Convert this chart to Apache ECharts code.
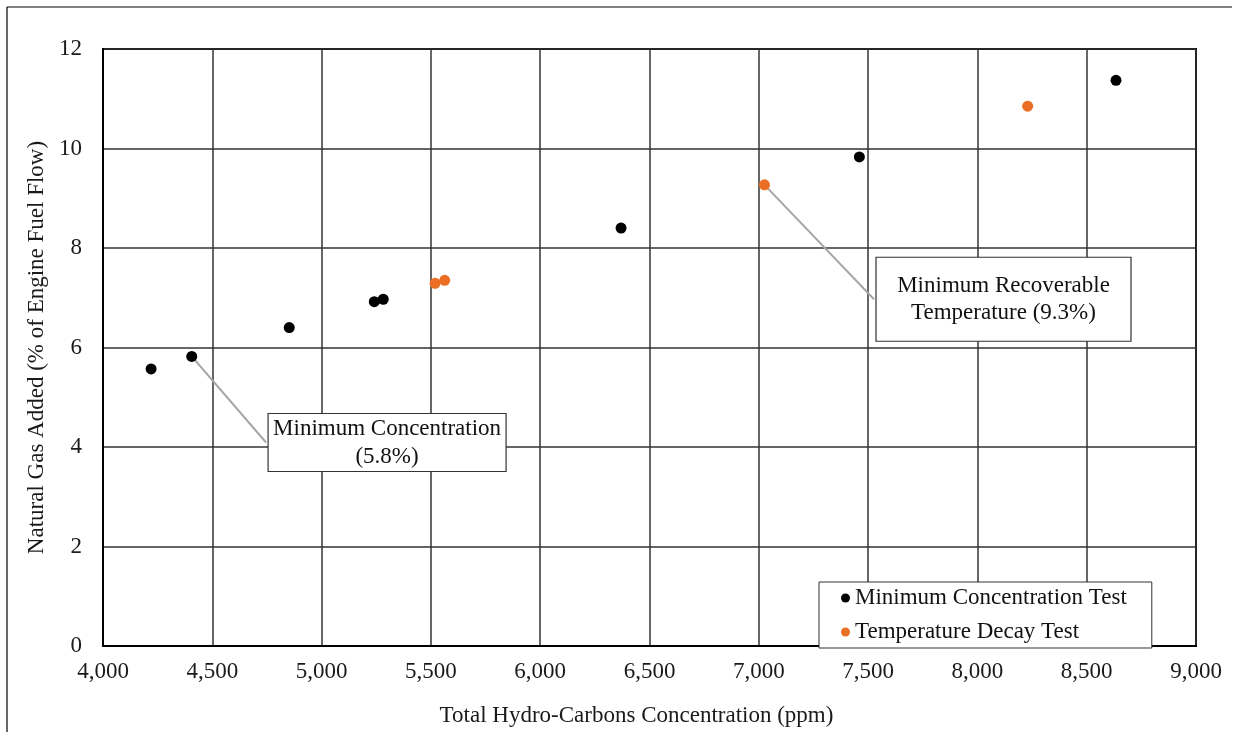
<!DOCTYPE html>
<html>
<head>
<meta charset="utf-8">
<script src="https://cdn.jsdelivr.net/npm/echarts@6/dist/echarts.min.js"></script>
<style>
html,body{margin:0;padding:0;background:#fff;}
#chart{width:1235px;height:732px;}
</style>
</head>
<body>
<div id="chart"></div>
<script>
// Data
const minConcX = [4220, 4406, 4852, 5241, 5282, 6370, 7460, 8634];
const minConcY = [5.57, 5.82, 6.40, 6.92, 6.97, 8.40, 9.83, 11.37];
const tempDecayX = [5519, 5563, 7026, 8230];
const tempDecayY = [7.29, 7.35, 9.27, 10.85];
const seriesNames = ['Minimum Concentration Test', 'Temperature Decay Test'];
const xTitle = 'Total Hydro-Carbons Concentration (ppm)';
const yTitle = 'Natural Gas Added (% of Engine Fuel Flow)';
// annotations: point, box anchor (data coords), text lines
const annoPoint1 = [4406, 5.82];
const annoAnchor1 = [4746, 4.09];
const annoText1 = ['Minimum Concentration', '(5.8%)'];
const annoPoint2 = [7026, 9.27];
const annoAnchor2 = [7527, 6.97];
const annoText2 = ['Minimum Recoverable', 'Temperature (9.3%)'];

const FONT = '"Liberation Serif", "Times New Roman", serif';
const chart = echarts.init(document.getElementById('chart'), null, {renderer: 'canvas'});

function zip(xs, ys) { return xs.map((x, i) => [x, ys[i]]); }

const option = {
  backgroundColor: '#fff',
  animation: false,
  textStyle: {fontFamily: FONT},
  grid: {left: 103, right: 39, top: 49, bottom: 85, show: true, borderColor: '#000', borderWidth: 2, backgroundColor: 'transparent'},
  xAxis: {
    type: 'value', min: 4000, max: 9000, interval: 500,
    name: xTitle, nameLocation: 'middle', nameGap: 58,
    nameTextStyle: {fontFamily: FONT, fontSize: 23, color: '#1a1a1a', padding: [0, 26, 0, 0]},
    axisLine: {show: true, lineStyle: {color: '#000', width: 2}},
    axisTick: {show: false},
    axisLabel: {fontFamily: FONT, fontSize: 23, color: '#1a1a1a', margin: 14,
      formatter: v => v.toLocaleString('en-US')},
    splitLine: {show: true, lineStyle: {color: '#333', width: 1.5}}
  },
  yAxis: {
    type: 'value', min: 0, max: 12, interval: 2,
    name: yTitle, nameLocation: 'middle', nameGap: 55,
    nameTextStyle: {fontFamily: FONT, fontSize: 23, color: '#1a1a1a'},
    axisLine: {show: true, lineStyle: {color: '#000', width: 2}},
    axisTick: {show: false},
    axisLabel: {fontFamily: FONT, fontSize: 23, color: '#1a1a1a', margin: 21},
    splitLine: {show: true, lineStyle: {color: '#333', width: 1.5}}
  },
  legend: {
    left: 819, top: 582, orient: 'vertical',
    data: [
      {name: seriesNames[0], icon: 'circle', itemStyle: {color: '#000'}},
      {name: seriesNames[1], icon: 'circle', itemStyle: {color: '#EA6F25'}}
    ],
    itemWidth: 9, itemHeight: 9, itemGap: 10,
    padding: [4, 25, 4, 22],
    backgroundColor: '#fff', borderColor: '#333', borderWidth: 1,
    textStyle: {fontFamily: FONT, fontSize: 23, color: '#111', lineHeight: 24},
    z: 10
  },
  series: [
    {
      name: 'leaders', type: 'line', data: [], silent: true,
      markLine: {
        silent: true, symbol: ['none', 'none'],
        lineStyle: {color: '#a6a6a6', width: 2, type: 'solid'},
        label: {show: false},
        data: [
          [{coord: annoPoint1}, {coord: annoAnchor1}],
          [{coord: annoPoint2}, {coord: annoAnchor2}]
        ]
      }
    },
    {
      name: seriesNames[0], type: 'scatter', symbol: 'circle', symbolSize: 11,
      itemStyle: {color: '#000', opacity: 1}, data: zip(minConcX, minConcY), z: 5
    },
    {
      name: seriesNames[1], type: 'scatter', symbol: 'circle', symbolSize: 11,
      itemStyle: {color: '#EA6F25', opacity: 1}, data: zip(tempDecayX, tempDecayY), z: 5
    }
  ]
};
chart.setOption(option);

function box(anchor, lines, w, h, lh) {
  const p = chart.convertToPixel({gridIndex: 0}, anchor);
  const x = p[0] + 2, y = p[1] - h / 2;
  return [
    {type: 'rect', z: 20, shape: {x: x, y: y, width: w, height: h},
     style: {fill: '#fff', stroke: '#333', lineWidth: 1.2}},
    {type: 'text', z: 21, x: x + w / 2, y: y + h / 2,
     style: {text: lines.join('\n'), font: '23px ' + FONT, fill: '#111',
       align: 'center', verticalAlign: 'middle', lineHeight: lh}}
  ];
}

chart.setOption({
  graphic: [
    {type: 'line', shape: {x1: 7, y1: 7, x2: 1232, y2: 7}, style: {stroke: '#000', lineWidth: 1.2}},
    {type: 'line', shape: {x1: 7, y1: 7, x2: 7, y2: 732}, style: {stroke: '#000', lineWidth: 1.2}},
    ...box(annoAnchor1, annoText1, 238, 58, 28),
    ...box(annoAnchor2, annoText2, 255, 84, 27)
  ]
});
</script>
</body>
</html>
